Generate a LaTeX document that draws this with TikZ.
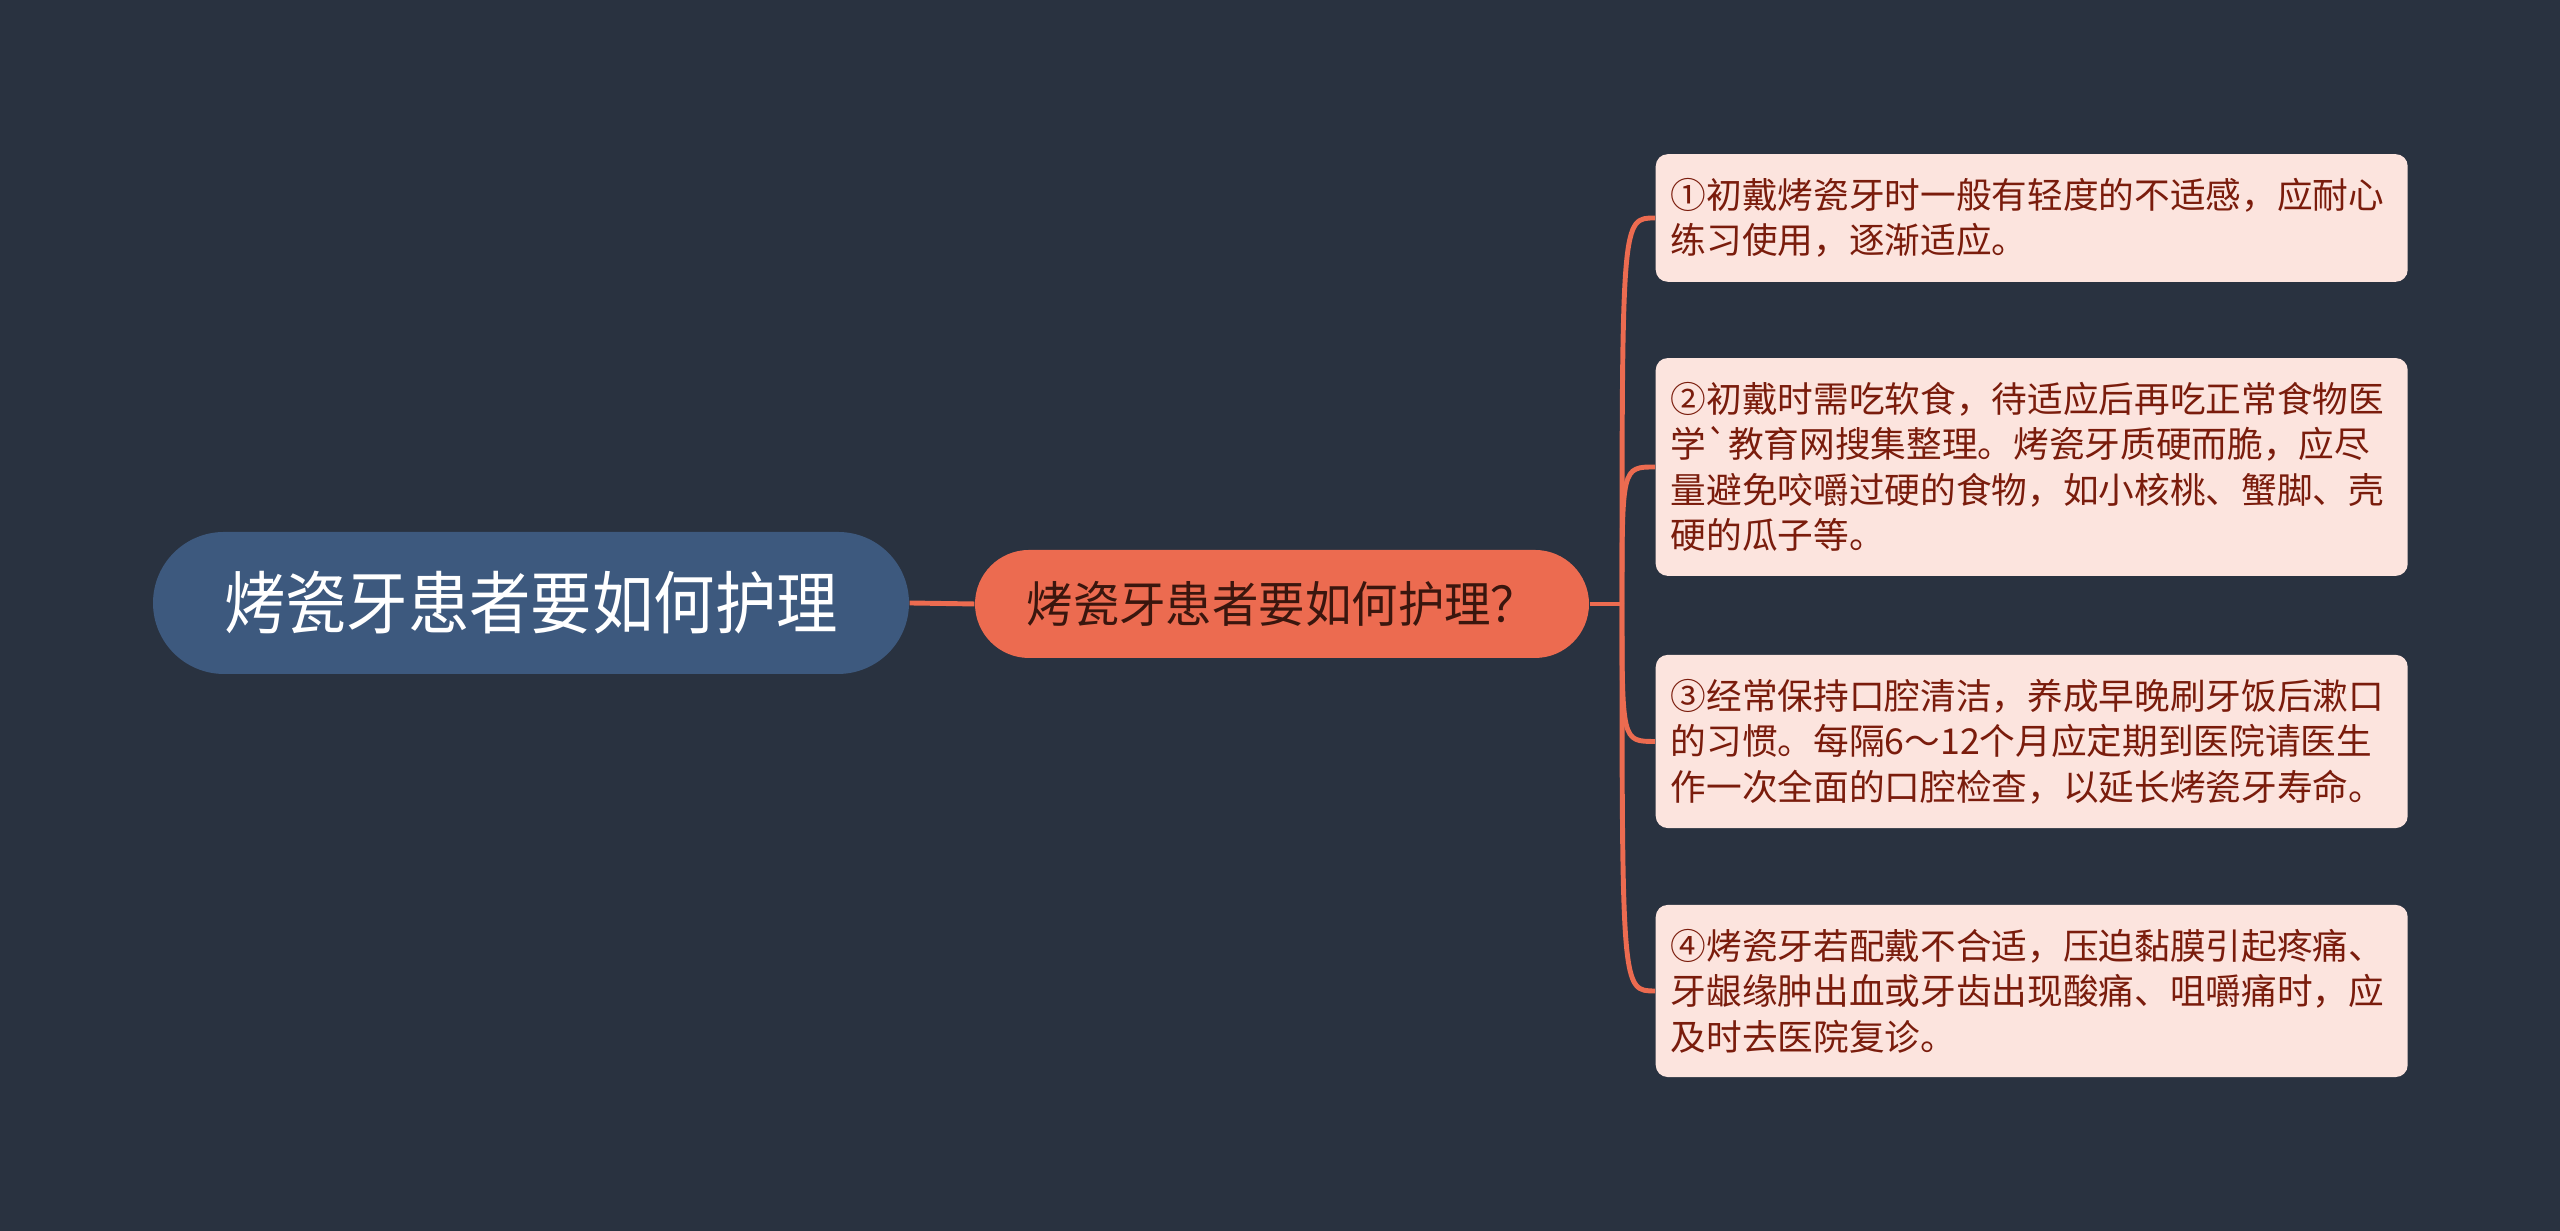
\documentclass[tikz,border=0pt]{standalone}
\usepackage{fontspec}
\newfontfamily\cjk{Noto Sans CJK SC}
\newfontfamily\cjkroot{Noto Sans CJK SC}[FakeStretch=0.9]
\newfontfamily\cjktopic{Noto Sans CJK SC}[FakeStretch=0.95]
\usetikzlibrary{positioning}
\definecolor{mmbg}{RGB}{41,50,64}
\definecolor{mmblue}{RGB}{61,89,126}
\definecolor{mmorange}{RGB}{236,107,80}
\definecolor{mmpink}{RGB}{252,228,222}
\definecolor{mmbrown}{RGB}{58,22,14}
\definecolor{mmred}{RGB}{122,28,12}

\begin{document}
\begin{tikzpicture}[
  rootnode/.style={fill=mmblue, rounded corners=0.71cm, minimum width=7.56cm,
    minimum height=1.42cm, text=white, font=\cjkroot\fontsize{19.4}{23}\selectfont},
  topicnode/.style={fill=mmorange, rounded corners=0.54cm, minimum width=6.14cm,
    minimum height=1.08cm, text=mmbrown, font=\cjktopic\fontsize{13.9}{17}\selectfont},
  leafnode/.style={fill=mmpink, rounded corners=0.12cm, anchor=west,
    text width=7.22cm, align=left, inner xsep=0.15cm, inner ysep=0.24cm,
    text=mmred, font=\cjk\fontsize{10.15}{12.96}\selectfont},
  branch/.style={mmorange, line width=1.4pt}]
% background
\fill[mmbg] (0,0) rectangle (25.6,12.31);
\useasboundingbox (0,0) rectangle (25.6,12.31);
% main nodes
\node[rootnode] (root) at (5.31,6.28) {烤瓷牙患者要如何护理};
\node[topicnode] (topic) at (12.82,6.27) {烤瓷牙患者要如何护理？};
% leaves
\node[leafnode] (leaf1) at (16.55,10.13) {①初戴烤瓷牙时一般有轻度的不适感，应耐心\\练习使用，逐渐适应。};
\node[leafnode] (leaf2) at (16.55,7.64) {②初戴时需吃软食，待适应后再吃正常食物医\\学`教育网搜集整理。烤瓷牙质硬而脆，应尽\\量避免咬嚼过硬的食物，如小核桃、蟹脚、壳\\硬的瓜子等。};
\node[leafnode] (leaf3) at (16.55,4.895) {③经常保持口腔清洁，养成早晚刷牙饭后漱口\\的习惯。每隔6～12个月应定期到医院请医生\\作一次全面的口腔检查，以延长烤瓷牙寿命。};
\node[leafnode] (leaf4) at (16.55,2.40) {④烤瓷牙若配戴不合适，压迫黏膜引起疼痛、\\牙龈缘肿出血或牙齿出现酸痛、咀嚼痛时，应\\及时去医院复诊。};
% connectors
\coordinate (fork) at (16.22,6.27);
\draw[branch] (root.east) -- (topic.west);
\draw[branch] (topic.east) -- (fork);
\foreach \n in {1,2,3,4}
  \draw[branch] (fork) .. controls (fork |- leaf\n.west) .. (leaf\n.west);
\end{tikzpicture}
\end{document}
